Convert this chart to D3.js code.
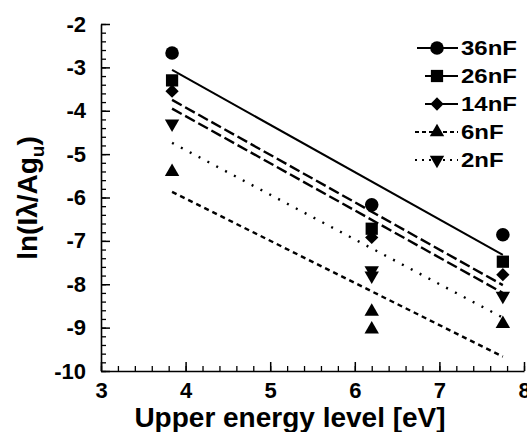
<!DOCTYPE html>
<html>
<head>
<meta charset="utf-8">
<script src="https://cdn.jsdelivr.net/npm/d3@7"></script>
<style>
  body { margin: 0; background: #fff; }
  svg { display: block; font-family: "Liberation Sans", Arial, sans-serif; font-weight: bold; }
</style>
</head>
<body>
<script>
var width = 527,
    height = 432;

// capacitance series, as in the legend
var seriesNames = ["36nF", "26nF", "14nF", "6nF", "2nF"];

// measured points [upper energy level eV, ln(I lambda / A g_u)]
var pts36 = [[3.84, -2.67], [6.2, -6.17], [7.75, -6.86]];
var pts26 = [[3.84, -3.3], [6.2, -6.72], [7.75, -7.48]];
var pts14 = [[3.84, -3.55], [6.2, -6.92], [7.75, -7.78]];
var pts6  = [[3.84, -5.41], [6.2, -8.63], [6.2, -9.04], [7.75, -8.91]];
var pts2  = [[3.84, -4.3], [6.2, -7.68], [6.2, -7.8], [7.75, -8.27]];

// fitted lines: ends at x = fitX
var fitX = [3.84, 7.75];
var fit36 = [-3.06, -7.32];
var fit26 = [-3.75, -8.02];
var fit14 = [-3.95, -8.2];
var fit6  = [-5.87, -9.67];
var fit2  = [-4.74, -8.77];

var xTicks = [3, 4, 5, 6, 7, 8];
var yTicks = [-2, -3, -4, -5, -6, -7, -8, -9, -10];

var points = [pts36, pts26, pts14, pts6, pts2];
var fits = [fit36, fit26, fit14, fit6, fit2];

var shapes = ["circle", "square", "diamond", "up", "down"];
var dashes = [null, "11,4", "11,4", "5,4", "2,8"];
var legendStart = [417, 425, 425, 415, 415];

var x = d3.scaleLinear().domain([3, 8]).range([101, 524]);
var y = d3.scaleLinear().domain([-10, -2]).range([371, 24]);

// plain hyphen for negatives, like the original figure
var fmt = function(d) { return String(d); };

var svg = d3.select("body").append("svg")
    .attr("width", width)
    .attr("height", height);

function symbolPath(kind) {
  if (kind == "circle") return d3.symbol(d3.symbolCircle, 145)();
  if (kind == "square") return d3.symbol(d3.symbolSquare, 150)();
  if (kind == "diamond") return d3.symbol(d3.symbolSquare, 88)();
  return d3.symbol(d3.symbolTriangle, 90)();
}
function symbolRotate(kind) {
  if (kind == "diamond") return 45;
  if (kind == "down") return 180;
  return 0;
}

// minor ticks
svg.append("g")
    .attr("transform", "translate(0," + y(-10) + ")")
    .call(d3.axisBottom(x).tickValues(d3.range(3, 8.01, 0.2)).tickSize(-5).tickFormat(""))
    .call(function(g) { g.select(".domain").remove(); })
    .selectAll("line").attr("stroke-width", 1.3);
svg.append("g")
    .attr("transform", "translate(" + x(3) + ",0)")
    .call(d3.axisLeft(y).tickValues(d3.range(-10, -1.99, 0.2)).tickSize(-5).tickFormat(""))
    .call(function(g) { g.select(".domain").remove(); })
    .selectAll("line").attr("stroke-width", 1.3);

// major axes
var xAxis = svg.append("g")
    .attr("transform", "translate(0," + y(-10) + ")")
    .call(d3.axisBottom(x).tickValues(xTicks).tickSize(-9).tickSizeOuter(0).tickPadding(11).tickFormat(fmt));
var yAxis = svg.append("g")
    .attr("transform", "translate(" + x(3) + ",0)")
    .call(d3.axisLeft(y).tickValues(yTicks).tickSize(-9).tickSizeOuter(0).tickPadding(15).tickFormat(fmt));

[xAxis, yAxis].forEach(function(a) {
  a.select(".domain").attr("stroke-width", 1.6);
  a.selectAll(".tick line").attr("stroke-width", 1.5);
  a.selectAll("text")
      .attr("font-size", 22)
      .attr("font-family", "Liberation Sans, Arial, sans-serif")
      .attr("font-weight", "bold")
      .attr("fill", "#000");
});

// fit lines
fits.forEach(function(f, i) {
  svg.append("line")
      .attr("x1", x(fitX[0])).attr("y1", y(f[0]))
      .attr("x2", x(fitX[1])).attr("y2", y(f[1]))
      .attr("stroke", "#000")
      .attr("stroke-width", i == 0 ? 2 : 2.4)
      .attr("stroke-dasharray", dashes[i]);
});

// markers
points.forEach(function(p, i) {
  svg.selectAll(".m" + i)
      .data(p)
      .enter().append("path")
      .attr("class", "m" + i)
      .attr("d", symbolPath(shapes[i]))
      .attr("transform", function(d) {
        return "translate(" + x(d[0]) + "," + y(d[1]) + ") rotate(" + symbolRotate(shapes[i]) + ")";
      })
      .attr("fill", "#000");
});

// legend
var rowY = [48, 76, 104, 132, 160];
seriesNames.forEach(function(name, i) {
  var g = svg.append("g");
  g.append("line")
      .attr("x1", legendStart[i]).attr("x2", 458)
      .attr("y1", rowY[i]).attr("y2", rowY[i])
      .attr("stroke", "#000")
      .attr("stroke-width", 2)
      .attr("stroke-dasharray", i >= 3 ? (i == 3 ? "4,3" : "2,5") : null);
  g.append("path")
      .attr("d", symbolPath(shapes[i]))
      .attr("transform", "translate(437," + rowY[i] + ") rotate(" + symbolRotate(shapes[i]) + ")");
  g.append("text")
      .attr("transform", "translate(461," + (rowY[i] + 7) + ") scale(1.2,1)")
      .attr("font-size", 20)
      .text(name);
});

// axis titles
svg.append("text")
    .attr("x", 290)
    .attr("y", 427)
    .attr("text-anchor", "middle")
    .attr("font-size", 28)
    .text("Upper energy level [eV]");

var yt = svg.append("text")
    .attr("transform", "translate(37,198) rotate(-90)")
    .attr("text-anchor", "middle")
    .attr("font-size", 28);
yt.append("tspan").text("ln(Iλ/Ag");
yt.append("tspan").attr("font-size", 19).attr("dy", 7).text("u");
yt.append("tspan").attr("dy", -7).text(")");
</script>
</body>
</html>
